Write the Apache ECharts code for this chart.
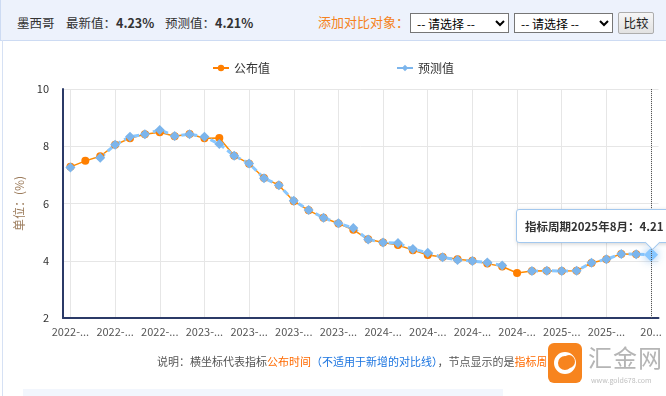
<!DOCTYPE html>
<html><head><meta charset="utf-8">
<script src="https://cdn.jsdelivr.net/npm/echarts@6/dist/echarts.min.js"></script>
<style>
html,body{margin:0;padding:0;width:666px;height:396px;overflow:hidden;background:#fff;font-family:"Noto Sans CJK SC","Noto Sans",sans-serif;}
#chart{position:absolute;left:0;top:0;width:666px;height:396px;}
#header{position:absolute;left:0;top:0;width:666px;height:41px;background:#edf2fc;border-bottom:1px solid #cddbf3;border-left:1px solid #cddbf3;box-sizing:border-box;z-index:5;color:#333;font-size:12.5px;}
#header span{position:absolute;top:14px;line-height:17px;white-space:nowrap;}
#header b{font-weight:bold;}
.sel{position:absolute;top:13px;height:20px;width:99px;font-size:12px;font-family:"Noto Sans CJK SC",sans-serif;border:1px solid #767676;background:#fff;padding:0 2px;box-sizing:border-box;}
#btn{position:absolute;left:617px;top:12px;width:36px;height:22px;box-sizing:border-box;border:1px solid #adadad;border-radius:2px;background:linear-gradient(#f6f6f6,#e2e2e2);font-size:12.5px;text-align:center;line-height:20px;color:#222;}
#leftline{position:absolute;left:2px;top:40px;width:1px;height:356px;background:#d6e1f4;z-index:5;}
#note{position:absolute;left:157px;top:353px;font-size:11px;color:#555;white-space:nowrap;z-index:5;}
#note .o{color:#ff6a00;}
#note .b{color:#1a74e0;}
#bar{position:absolute;left:23px;top:389px;width:480px;height:7px;background:#f2f6fd;z-index:5;}
#logo{position:absolute;left:546px;top:338px;width:120px;height:56px;background:rgba(255,255,255,0.92);z-index:6;}
#logo .ic{position:absolute;left:2px;top:5px;width:34px;height:40px;border-radius:6px;background:#f7841e;}
#logo .ring{position:absolute;left:6px;top:9px;width:22px;height:22px;border-radius:50%;border:4px solid #fff;box-sizing:border-box;}
#logo .inn{position:absolute;left:15px;top:12px;width:12px;height:13px;border-radius:50%;background:#f7841e;}
#logo .t{position:absolute;left:42px;top:5px;font-size:24px;line-height:28px;color:#b5b5b5;letter-spacing:1px;}
#logo .u{position:absolute;left:45px;top:37px;font-size:7px;color:#c0c0c0;}
</style></head>
<body>
<div id="chart"></div>
<div id="header">
  <span style="left:16px">墨西哥</span>
  <span style="left:65px">最新值：<b>4.23%</b></span>
  <span style="left:164px">预测值：<b>4.21%</b></span>
  <span style="left:317px;color:#f58220;font-size:13px;top:13px">添加对比对象：</span>
  <select class="sel" style="left:409px"><option>-- 请选择 --</option></select>
  <select class="sel" style="left:513px"><option>-- 请选择 --</option></select>
  <div id="btn">比较</div>
</div>
<div id="leftline"></div>
<div id="note">说明：横坐标代表指标<span class="o">公布时间</span><span class="b">（不适用于新增的对比线）</span>，节点显示的是<span class="o">指标周期</span></div>
<div id="bar"></div>
<div id="logo"><div class="ic"><div class="ring"></div><div class="inn"></div></div><div class="t">汇金网</div><div class="u">www.gold678.com</div></div>
<script>
// publication dates (category axis)
const categories = [
  "2022-06-09","2022-07-07","2022-08-09","2022-09-08","2022-10-07","2022-11-09","2022-12-08",
  "2023-01-10","2023-02-09","2023-03-09","2023-04-12","2023-05-09","2023-06-08","2023-07-07",
  "2023-08-09","2023-09-07","2023-10-09","2023-11-09","2023-12-07","2024-01-09","2024-02-08",
  "2024-03-07","2024-04-09","2024-05-09","2024-06-07","2024-07-09","2024-08-08","2024-09-09",
  "2024-10-09","2024-11-07","2024-12-09","2025-01-09","2025-02-07","2025-03-07","2025-04-09",
  "2025-05-09","2025-06-09","2025-07-09","2025-08-07","2025-09-09"
];
// 公布值
const publishedValues = [
  7.28,7.49,7.65,8.05,8.28,8.42,8.49,8.35,8.43,8.28,8.29,7.67,7.39,6.89,6.64,6.08,5.76,5.50,5.30,5.08,
  4.75,4.64,4.55,4.37,4.20,4.13,4.05,4.00,3.90,3.80,3.57,3.64,3.65,3.64,3.65,3.92,4.05,4.24,4.23,null
];
// 预测值
const forecastValues = [
  7.26,null,7.60,8.05,8.33,8.42,8.57,8.36,8.42,8.33,8.08,7.67,7.40,6.88,6.64,6.10,5.77,5.50,5.31,5.14,
  4.74,4.64,4.62,4.41,4.28,4.12,4.03,3.99,3.94,3.83,null,3.64,3.65,3.64,3.65,3.93,4.05,4.24,4.23,4.21
];
const yTicks = [2,4,6,8,10];
const seriesNames = ["公布值","预测值"];

const chart = echarts.init(document.getElementById('chart'), null, {renderer:'canvas'});
const lastIdx = categories.length - 1;
const xData = categories.map((c,i)=> i===lastIdx ? {value:c, textStyle:{width:26}} : c);
function periodOf(cat){
  const [y,m] = cat.split('-').map(Number);
  let py=y, pm=m-1; if(pm===0){pm=12;py--;}
  return py+'年'+pm+'月';
}
const option = {
  animation:false,
  grid:{left:63,right:7.5,top:89,bottom:78},
  legend:{top:57,left:'center',itemWidth:16,itemHeight:8,itemGap:126,
    textStyle:{fontSize:12,color:'#333',fontFamily:'Noto Sans CJK SC'},data:seriesNames},
  tooltip:{
    trigger:'axis',triggerOn:'none',alwaysShowContent:true,transitionDuration:0,
    axisPointer:{type:'line',lineStyle:{color:'#555',type:'dotted',width:1},label:{show:false}},
    position:function(){return [516,209];},
    backgroundColor:'#fff',borderColor:'#a3c8ee',borderWidth:1,padding:[7,8],
    textStyle:{fontSize:11.5,fontWeight:'bold',color:'#333',fontFamily:'Noto Sans CJK SC'},
    extraCssText:'box-shadow:1px 1px 4px rgba(0,0,0,0.18);border-radius:3px;white-space:nowrap;',
    formatter:function(params){
      const p = params.find(q=>q.seriesName==='预测值' && q.value!=null) || params[0];
      return '<div style="line-height:18px">指标周期'+periodOf(categories[p.dataIndex])+'：'+p.value.toFixed(2)+'</div>'+
        '<div style="position:absolute;left:130px;bottom:-6px;width:10px;height:10px;background:#fff;border-right:1px solid #a3c8ee;border-bottom:1px solid #a3c8ee;transform:rotate(45deg);"></div>';
    }
  },
  xAxis:{
    type:'category',data:xData,boundaryGap:true,
    axisLine:{lineStyle:{color:'#2b3a67',width:2}},
    axisTick:{show:false,alignWithLabel:true,interval:2},
    axisLabel:{interval:2,width:40,overflow:'truncate',ellipsis:'...',fontSize:11,color:'#555',margin:8,fontFamily:'Noto Sans CJK SC'},
    splitLine:{show:true,interval:2,alignWithLabel:true,lineStyle:{color:'#e6e6e6',width:1}}
  },
  yAxis:{
    type:'value',min:yTicks[0],max:yTicks[yTicks.length-1],interval:yTicks[1]-yTicks[0],
    axisLine:{show:true,lineStyle:{color:'#2b3a67',width:2}},
    axisLabel:{fontSize:11,color:'#333',margin:14,fontFamily:'Noto Sans CJK SC'},
    splitLine:{lineStyle:{color:'#e6e6e6'}},
    name:'单位：(%)',nameLocation:'middle',nameRotate:90,nameGap:27,
    nameTextStyle:{color:'#9c7c5c',fontSize:12,fontFamily:'Noto Sans CJK SC'}
  },
  series:[
    {name:seriesNames[0],type:'line',data:publishedValues,symbol:'circle',symbolSize:8,showAllSymbol:true,
      itemStyle:{color:'#ff7f00'},lineStyle:{width:1.5,color:'#ff7f00'},
      emphasis:{scale:1.4,lineStyle:{width:1.5}}},
    {name:seriesNames[1],type:'line',data:forecastValues,symbol:'diamond',symbolSize:10,showAllSymbol:true,
      itemStyle:{color:'#7cb5ec'},lineStyle:{width:3,type:[6,4],color:'#7cb5ec'},
      emphasis:{scale:1.4,lineStyle:{width:3},itemStyle:{shadowBlur:10,shadowColor:'rgba(124,181,236,0.9)'}}}
  ]
};
chart.setOption(option);
chart.dispatchAction({type:'showTip',seriesIndex:1,dataIndex:lastIdx});
</script>
</body></html>
